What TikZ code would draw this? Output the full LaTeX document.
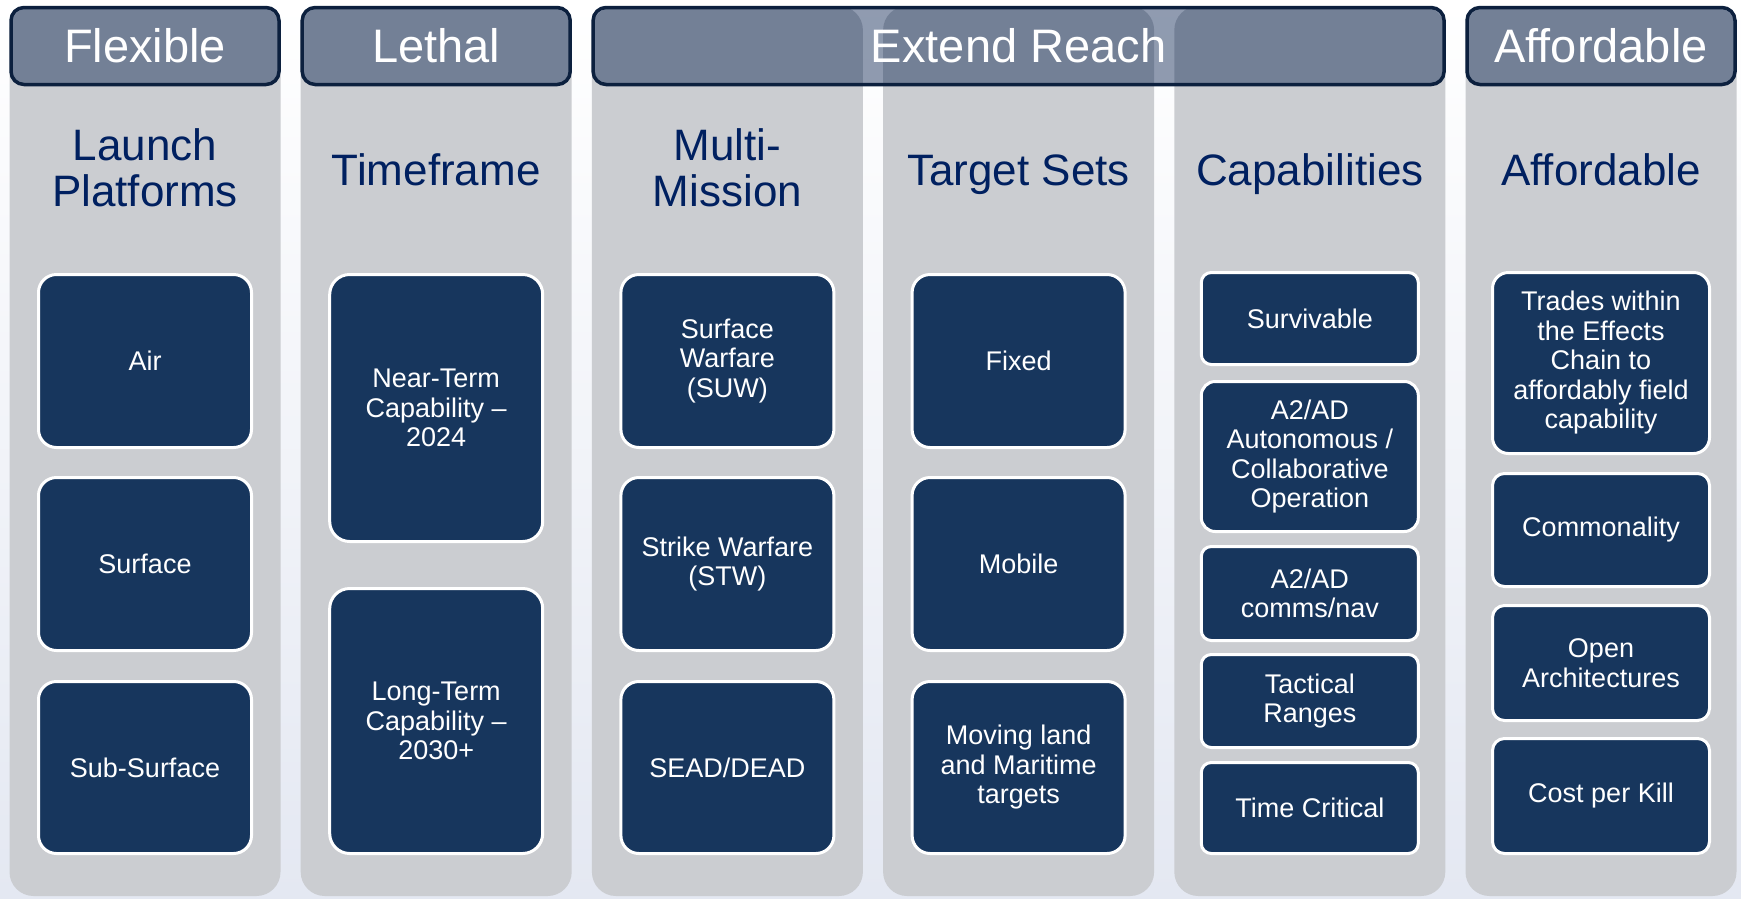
\documentclass[tikz,border=0pt]{standalone}
\usepackage{fontspec}
\setmainfont{Liberation Sans}
\usetikzlibrary{positioning}
\definecolor{colgray}{RGB}{203,205,209}
\definecolor{boxnavy}{RGB}{23,54,93}
\definecolor{hdrline}{RGB}{12,32,62}
\definecolor{hdrfill}{RGB}{10,35,80}
\definecolor{titleblue}{RGB}{0,32,96}
\definecolor{bgblue}{RGB}{228,232,242}

\begin{document}
\begin{tikzpicture}[
                x=1pt, y=-1pt,
                column/.style={fill=colgray, rounded corners=24pt, minimum width=271pt, minimum height=890pt, inner sep=0pt},
                head/.style={draw=hdrline, line width=3.5pt, fill=hdrfill, fill opacity=0.45, text opacity=1, text=white,
                             rounded corners=13pt, minimum height=77pt, inner sep=0pt, font=\fontsize{47}{50}\selectfont},
                title/.style={text=titleblue, align=center, font=\fontsize{44}{46}\selectfont},
                oneline/.style={title, anchor=base},
                item/.style={draw=white, line width=3pt, fill=boxnavy, text=white, align=center, inner sep=2pt,
                             minimum width=213pt, rounded corners=#1, font=\fontsize{27}{29.5}\selectfont},
                item/.default=18pt,
                wide/.style={item=#1, minimum width=217pt},
                wide/.default=10pt
            ]
            \useasboundingbox (0,0) rectangle (1741,898);
            \shade[top color=white, bottom color=bgblue] (0,0) rectangle (1741,898);

            % columns
            \foreach \n/\x in {cola/145, colb/436.2, colc/727.4, cold/1018.6, cole/1309.8, colf/1601}
                \node[column] (\n) at (\x,451) {};

            % headers
            \node[head, minimum width=268pt] (flexible) at (145,46) {Flexible};
            \node[head, minimum width=268pt] (lethal) at (436.2,46) {Lethal};
            \node[head, minimum width=851pt] (reach) at (1018.6,46) {Extend Reach};
            \node[head, minimum width=268pt] (affordhead) at (1601,46) {Affordable};

            % titles
            \node[title] (launch) at (145,168) {Launch\\Platforms};
            \node[oneline] (timeframe) at (436.2,185) {Timeframe};
            \node[title] (multi) at (727.4,168) {Multi-\\Mission};
            \node[oneline] (targets) at (1018.6,185) {Target Sets};
            \node[oneline] (capab) at (1309.8,185) {Capabilities};
            \node[oneline] (afford) at (1601,185) {Affordable};

            % launch platforms
            \node[item, minimum height=173pt] (air) at (145,361) {Air};
            \node[item, minimum height=173pt] (surface) at (145,564) {Surface};
            \node[item, minimum height=172pt] (subsurface) at (145,767.5) {Sub-Surface};

            % timeframe
            \node[item=20pt, minimum height=267pt] (nearterm) at (436.2,408) {Near-Term\\Capability –\\2024};
            \node[item=20pt, minimum height=265pt] (longterm) at (436.2,721) {Long-Term\\Capability –\\2030+};

            % multi-mission
            \node[item, minimum height=173pt] (suw) at (727.4,361) {Surface\\Warfare\\(SUW)};
            \node[item, minimum height=173pt] (stw) at (727.4,564) {Strike Warfare\\(STW)};
            \node[item, minimum height=172pt] (sead) at (727.4,767.5) {SEAD/DEAD};

            % target sets
            \node[item, minimum height=173pt] (fixed) at (1018.6,361) {Fixed};
            \node[item, minimum height=173pt] (mobile) at (1018.6,564) {Mobile};
            \node[item, minimum height=172pt] (moving) at (1018.6,767.5) {Moving land\\and Maritime\\targets};

            % capabilities
            \node[wide, minimum height=92pt] (survivable) at (1309.8,318.5) {Survivable};
            \node[wide=14pt, minimum height=150pt] (autonomous) at (1309.8,456.5) {A2/AD\\Autonomous /\\Collaborative\\Operation};
            \node[wide, minimum height=94pt] (commsnav) at (1309.8,593.5) {A2/AD\\comms/nav};
            \node[wide, minimum height=93pt] (tactical) at (1309.8,701) {Tactical\\Ranges};
            \node[wide, minimum height=91pt] (timecrit) at (1309.8,808) {Time Critical};

            % affordable
            \node[wide=16pt, minimum height=181pt] (trades) at (1601,363) {Trades within\\the Effects\\Chain to\\affordably field\\capability};
            \node[wide=12pt, minimum height=113pt] (commonality) at (1601,530) {Commonality};
            \node[wide=12pt, minimum height=115pt] (openarch) at (1601,663) {Open\\Architectures};
            \node[wide=12pt, minimum height=115pt] (costkill) at (1601,796) {Cost per Kill};
        \end{tikzpicture}
\end{document}
